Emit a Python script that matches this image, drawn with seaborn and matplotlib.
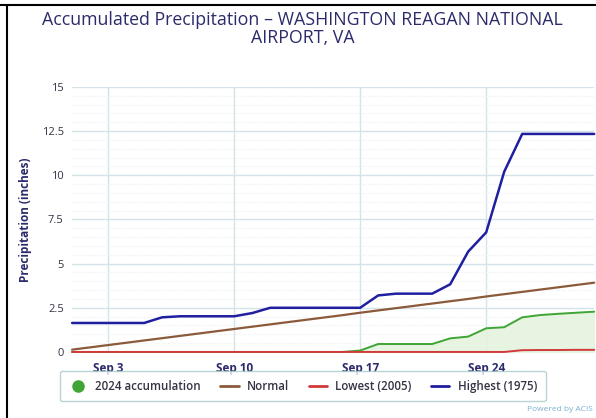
import matplotlib.pyplot as plt
import matplotlib.dates as mdates
from matplotlib.lines import Line2D
from matplotlib.ticker import MultipleLocator
import pandas as pd
import seaborn as sns

# daily accumulated precipitation, Sep 1 - Sep 30 (inches)
dates = pd.date_range("2024-09-01", "2024-09-30", freq="D")
accum_2024 = [0, 0, 0, 0, 0, 0, 0, 0, 0, 0, 0, 0, 0, 0, 0, 0,
              0.08, 0.45, 0.45, 0.45, 0.45, 0.77, 0.87, 1.34, 1.40,
              1.96, 2.09, 2.16, 2.22, 2.28]
normal = [0.13, 0.26, 0.39, 0.52, 0.65, 0.78, 0.91, 1.04, 1.17, 1.30,
          1.43, 1.56, 1.69, 1.82, 1.95, 2.08, 2.22, 2.35, 2.48, 2.61,
          2.74, 2.87, 3.00, 3.14, 3.27, 3.40, 3.53, 3.66, 3.79, 3.92]
lowest_2005 = [0, 0, 0, 0, 0, 0, 0, 0, 0, 0, 0, 0, 0, 0, 0, 0, 0, 0, 0, 0,
               0, 0, 0, 0, 0, 0.10, 0.11, 0.11, 0.12, 0.12]
highest_1975 = [1.64, 1.64, 1.64, 1.64, 1.64, 1.96, 2.02, 2.02, 2.02, 2.02,
                2.20, 2.50, 2.50, 2.50, 2.50, 2.50, 2.50, 3.20, 3.30, 3.30,
                3.30, 3.83, 5.68, 6.77, 10.20, 12.34, 12.34, 12.34, 12.34, 12.34]

df = pd.DataFrame({"date": dates, "accum": accum_2024, "normal": normal,
                   "lowest": lowest_2005, "highest": highest_1975})

sns.set_style("white")
plt.rcParams['font.family'] = ['Open Sans', 'DejaVu Sans']

navy = "#2b2b6b"
c_green, c_brown, c_red, c_blue = "#3fa535", "#8a5a3a", "#d23a3a", "#1f1fa0"

fig = plt.figure(figsize=(5.96, 4.18), dpi=100)
ax = fig.add_axes([0.121, 0.158, 0.876, 0.634])

ax.fill_between(df["date"], df["accum"], 0, color="#e4f3de", alpha=0.9, zorder=1)
sns.lineplot(data=df, x="date", y="accum", ax=ax, color=c_green, lw=1.4, zorder=3, clip_on=False)
sns.lineplot(data=df, x="date", y="normal", ax=ax, color=c_brown, lw=1.6, zorder=4, clip_on=False)
sns.lineplot(data=df, x="date", y="lowest", ax=ax, color=c_red, lw=1.4, zorder=3, clip_on=False)
sns.lineplot(data=df, x="date", y="highest", ax=ax, color=c_blue, lw=1.8, zorder=5, clip_on=False)

ax.set_xlim(dates[0], dates[-1])
ax.set_ylim(0, 15)
ax.yaxis.set_major_locator(MultipleLocator(2.5))
ax.yaxis.set_minor_locator(MultipleLocator(0.5))
ax.set_yticks([0, 2.5, 5, 7.5, 10, 12.5, 15])
ax.set_yticklabels(["0", "2.5", "5", "7.5", "10", "12.5", "15"])
ax.set_xticks(pd.to_datetime(["2024-09-03", "2024-09-10", "2024-09-17", "2024-09-24"]))
ax.xaxis.set_major_formatter(mdates.DateFormatter("%b %-d"))

ax.grid(True, which="major", color="#d3e3e8", lw=1)
ax.grid(True, which="minor", axis="y", color="#eef2f4", lw=0.8, ls=(0, (1, 1)))
ax.set_axisbelow(True)
for s in ax.spines.values():
    s.set_visible(False)

ax.tick_params(axis="x", which="major", length=0, pad=7, labelsize=8.5, labelcolor=navy)
ax.tick_params(axis="y", which="major", length=4, color="#c8c8c8", width=0.8,
               labelsize=8, labelcolor="#333344", pad=2)
ax.tick_params(axis="y", which="minor", length=2, color="#c8c8c8", width=0.8)
for lbl in ax.get_xticklabels():
    lbl.set_fontweight("bold")

ax.set_xlabel("")
ax.set_ylabel("Precipitation (inches)", color=navy, fontsize=8.5, fontweight="bold",
              labelpad=7)

fig.text(0.508, 0.951, "Accumulated Precipitation \u2013 WASHINGTON REAGAN NATIONAL",
         ha="center", va="center", fontsize=12.8, color=navy)
fig.text(0.508, 0.910, "AIRPORT, VA", ha="center", va="center", fontsize=12.8, color=navy)

handles = [
    Line2D([], [], ls="none", marker="o", markersize=8, color=c_green),
    Line2D([], [], color=c_brown, lw=2),
    Line2D([], [], color=c_red, lw=2),
    Line2D([], [], color=c_blue, lw=2),
]
labels = ["2024 accumulation", "Normal", "Lowest (2005)", "Highest (1975)"]
leg = fig.legend(handles, labels, loc="center", bbox_to_anchor=(0.508, 0.076), ncol=4,
                 frameon=True, fancybox=True, edgecolor="#a8c8cc", fontsize=8.3,
                 handlelength=1.6, columnspacing=1.7, handletextpad=0.7,
                 borderpad=0.75)
leg.get_frame().set_linewidth(1.0)
for t in leg.get_texts():
    t.set_color("#333344")
    t.set_fontweight("semibold")

fig.text(0.995, 0.02, "Powered by ACIS", ha="right", va="center", fontsize=6,
         color="#7aaed0")

# frame edges of the screenshot
fig.add_artist(Line2D([0.0, 1.0], [0.988, 0.988], color="black", lw=1.5,
                      transform=fig.transFigure))
fig.add_artist(Line2D([0.012, 0.012], [0.0, 0.988], color="black", lw=1.5,
                      transform=fig.transFigure))

fig.savefig("out.png", dpi=100)
